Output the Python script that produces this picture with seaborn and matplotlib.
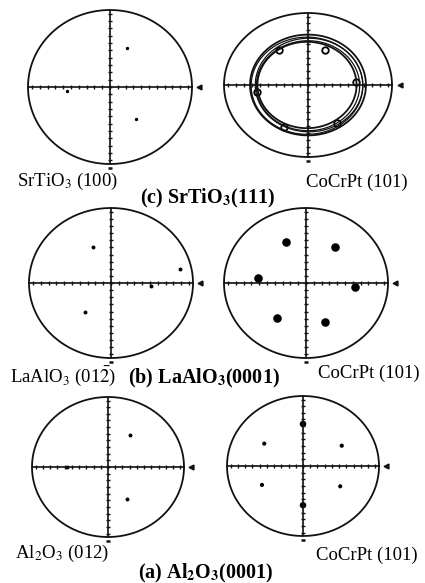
import numpy as np
import pandas as pd
import matplotlib
matplotlib.use("Agg")
import matplotlib.pyplot as plt
import seaborn as sns

sns.set_theme(style="white")
plt.rcParams["font.family"] = ["Liberation Serif", "DejaVu Serif"]
plt.rcParams["mathtext.fontset"] = "stix"

# ---- pole-figure spot positions (normalised to the projection circle) ----
# (c) SrTiO3(111) substrate, SrTiO3 (100) poles
sto_x = [0.21, -0.52, 0.32]
sto_y = [0.51, -0.05, -0.42]
# CoCrPt (101) on SrTiO3(111): textured ring (contour radii) and six local maxima
ring_rx = [0.59, 0.615, 0.64, 0.665, 0.69]
ring_ry = [0.60, 0.625, 0.65, 0.675, 0.70]
ring_knot_x = [-0.35, 0.20, 0.57, -0.61, -0.29, 0.35]
ring_knot_y = [0.49, 0.49, 0.04, -0.10, -0.58, -0.53]

# (b) LaAlO3(0001) substrate, LaAlO3 (01-2) poles
lao_x = [-0.22, 0.84, 0.49, -0.32]
lao_y = [0.48, 0.19, -0.04, -0.39]
# CoCrPt (101) on LaAlO3
lao_film_x = [-0.24, 0.35, -0.59, 0.60, -0.35, 0.23]
lao_film_y = [0.55, 0.48, 0.07, -0.05, -0.47, -0.52]

# (a) Al2O3(0001) substrate, Al2O3 (012) poles
alo_x = [0.29, -0.54, 0.25]
alo_y = [0.46, 0.00, -0.46]
# CoCrPt (101) on Al2O3
alo_film_x = [-0.51, 0.51, -0.54, 0.49, 0.00, 0.00]
alo_film_y = [0.32, 0.29, -0.27, -0.29, 0.60, -0.56]
alo_film_size = [10, 10, 10, 10, 22, 22]

W, H = 425, 583
fig = plt.figure(figsize=(W / 100, H / 100), dpi=100)
fig.patch.set_facecolor("white")

LIM = 1.2


def pole_axes(cx, cy, rx, ry):
    """Axes whose unit circle maps onto an ellipse centred at pixel (cx, cy)."""
    w, h = 2 * LIM * rx, 2 * LIM * ry
    ax = fig.add_axes([(cx - w / 2) / W, 1 - (cy + h / 2) / H, w / W, h / H])
    ax.set_xlim(-LIM, LIM)
    ax.set_ylim(-LIM, LIM)
    ax.set_axis_off()
    t = np.linspace(0, 2 * np.pi, 400)
    ax.plot(np.cos(t), np.sin(t), color="#111111", lw=1.3)
    ax.plot([-1, 1], [0, 0], color="#111111", lw=1.2)
    ax.plot([0, 0], [-1, 1], color="#111111", lw=1.2)
    tk = np.arange(-0.95, 0.96, 0.095)
    ax.plot(tk, np.zeros_like(tk), ls="none", marker="|", ms=3, mew=1.0, color="#111111")
    ax.plot(np.zeros_like(tk), tk, ls="none", marker="_", ms=3, mew=1.0, color="#111111")
    ax.plot([1.09], [0], ls="none", marker="<", ms=3.5, color="#111111")
    ax.plot([0], [-1.05], ls="none", marker="_", ms=3.5, mew=1.8, color="#111111")
    return ax


def spots(ax, xs, ys, size, marker="o"):
    df = pd.DataFrame({"x": xs, "y": ys})
    sns.scatterplot(data=df, x="x", y="y", ax=ax, s=size, color="black",
                    marker=marker, edgecolor="black", linewidth=0, legend=False)
    ax.set_axis_off()


# (c) SrTiO3(111)
ax1 = pole_axes(110, 87, 82, 77)
spots(ax1, sto_x, sto_y, 6)

ax2 = pole_axes(308, 85, 84, 72)
t = np.linspace(0, 2 * np.pi, 400)
for i, (a, b) in enumerate(zip(ring_rx, ring_ry)):
    ax2.plot(a * np.cos(t) + 0.012 * ((i % 3) - 1), b * np.sin(t) - 0.01 * (i % 2),
             color="#111111", lw=1.3 if i in (0, 4) else 0.9)
knots = pd.DataFrame({"x": ring_knot_x, "y": ring_knot_y})
sns.scatterplot(data=knots, x="x", y="y", ax=ax2, s=22, facecolor="white",
                edgecolor="black", linewidth=1.3, legend=False)
ax2.set_axis_off()

# (b) LaAlO3(0001)
ax3 = pole_axes(111, 283, 82, 75)
spots(ax3, lao_x, lao_y, 8)

ax4 = pole_axes(306, 283, 82, 75)
spots(ax4, lao_film_x, lao_film_y, 38)

# (a) Al2O3(0001)
ax5 = pole_axes(108, 467, 76, 70)
spots(ax5, alo_x, alo_y, 8)

ax6 = pole_axes(303, 466, 76, 70)
df6 = pd.DataFrame({"x": alo_film_x, "y": alo_film_y, "s": alo_film_size})
sns.scatterplot(data=df6, x="x", y="y", ax=ax6, size="s", sizes=(9, 22),
                color="black", linewidth=0, legend=False)
ax6.set_axis_off()


def label(x, y, s, bold=False, size=13.5):
    fig.text(x / W, 1 - y / H, s, ha="left", va="center", fontsize=size,
             fontweight="bold" if bold else "normal", color="black")


label(17, 181, r"SrTiO$_3$ (100)")
label(306, 182, "CoCrPt (101)")
label(140, 198, r"(c) SrTiO$_\mathbf{3}$(111)", bold=True, size=14.5)
label(10, 376, r"LaAlO$_3$ (01$\bar{2}$)")
label(128, 378, r"(b) LaAlO$_\mathbf{3}$(0001)", bold=True, size=14.5)
label(318, 373, "CoCrPt (101)")
label(15, 553, r"Al$_2$O$_3$ (012)")
label(316, 555, "CoCrPt (101)")
label(138, 573, r"(a) Al$_\mathbf{2}$O$_\mathbf{3}$(0001)", bold=True, size=14.5)

fig.savefig("out.png", dpi=100)
